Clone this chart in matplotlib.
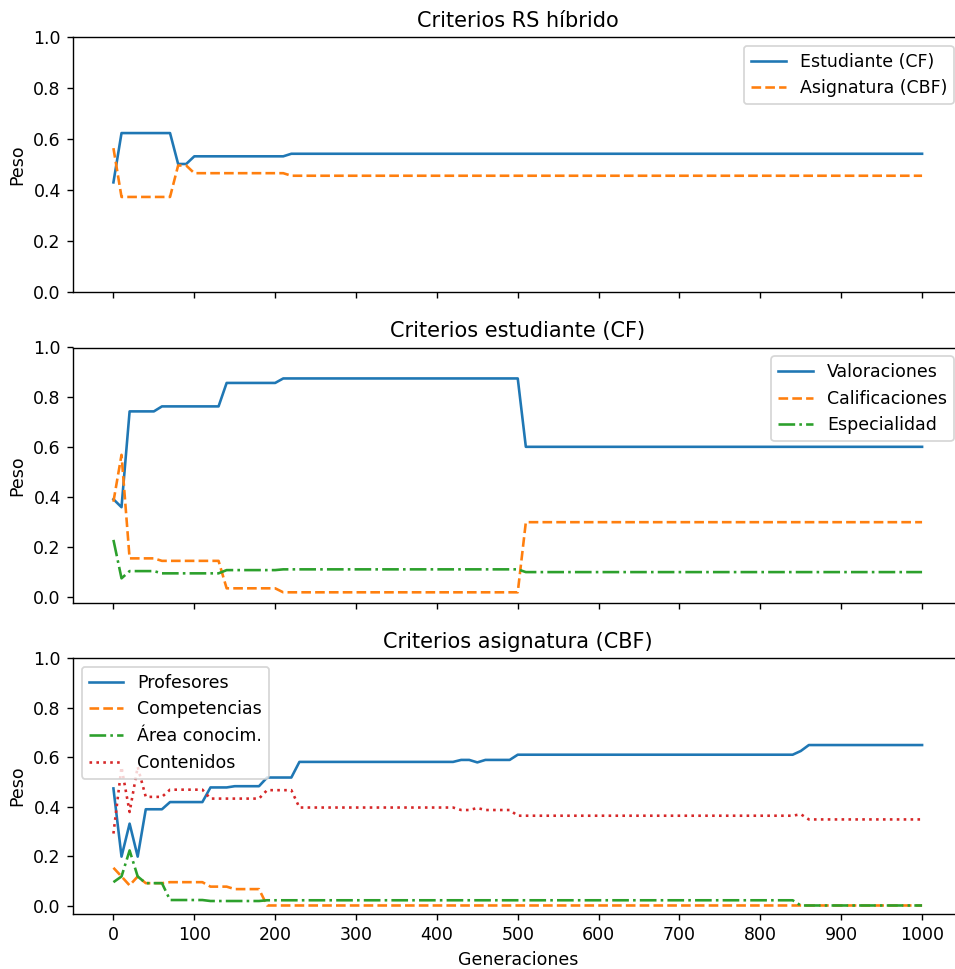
import matplotlib
matplotlib.use("Agg")
import matplotlib.pyplot as plt
from matplotlib.ticker import MultipleLocator

# ---- Panel 1: Criterios RS híbrido ----
p1_x = [0, 10, 70, 80, 90, 100, 210, 220, 1000]
p1_estudiante = [0.431, 0.624, 0.624, 0.503, 0.503, 0.533, 0.533, 0.543, 0.543]
p1_asignatura = [0.565, 0.374, 0.374, 0.497, 0.497, 0.467, 0.467, 0.457, 0.457]

# ---- Panel 2: Criterios estudiante (CF) ----
p2_x = [0, 10, 20, 50, 60, 130, 140, 200, 210, 500, 510, 1000]
p2_valoraciones = [0.392, 0.360, 0.744, 0.744, 0.764, 0.764, 0.858, 0.858, 0.876, 0.876, 0.602, 0.602]
p2_calificaciones = [0.382, 0.570, 0.155, 0.155, 0.145, 0.145, 0.035, 0.035, 0.019, 0.019, 0.300, 0.300]
p2_especialidad = [0.229, 0.075, 0.104, 0.104, 0.095, 0.095, 0.108, 0.108, 0.111, 0.111, 0.100, 0.100]

# ---- Panel 3: Criterios asignatura (CBF) ----
p3_prof_x = [0, 10, 20, 30, 40, 60, 70, 110, 120, 140, 150, 180, 190, 220, 230,
             420, 430, 440, 450, 460, 490, 500, 840, 850, 860, 1000]
p3_profesores = [0.474, 0.199, 0.332, 0.199, 0.390, 0.390, 0.419, 0.419, 0.478, 0.478,
                 0.483, 0.483, 0.518, 0.518, 0.581, 0.581, 0.589, 0.589, 0.579, 0.589,
                 0.589, 0.610, 0.610, 0.625, 0.649, 0.649]

p3_comp_x = [0, 10, 20, 30, 40, 60, 70, 110, 120, 140, 150, 180, 190, 1000]
p3_competencias = [0.154, 0.119, 0.083, 0.119, 0.092, 0.092, 0.096, 0.096, 0.078, 0.078,
                   0.068, 0.068, 0.002, 0.002]

p3_area_x = [0, 10, 20, 30, 40, 60, 70, 110, 120, 180, 190, 840, 850, 1000]
p3_area = [0.096, 0.119, 0.224, 0.119, 0.092, 0.092, 0.024, 0.024, 0.020, 0.020,
           0.023, 0.023, 0.002, 0.002]

p3_cont_x = [0, 10, 20, 30, 40, 60, 70, 110, 120, 180, 190, 220, 230, 420, 430, 440,
             450, 460, 490, 500, 840, 850, 860, 1000]
p3_contenidos = [0.292, 0.560, 0.379, 0.561, 0.440, 0.440, 0.469, 0.469, 0.433, 0.433,
                 0.467, 0.467, 0.397, 0.397, 0.387, 0.387, 0.395, 0.387, 0.387, 0.364,
                 0.364, 0.370, 0.349, 0.349]

titles = ["Criterios RS híbrido", "Criterios estudiante (CF)", "Criterios asignatura (CBF)"]
xticks_step = 100

W, H = 955, 969
DPI = 125
fig = plt.figure(figsize=(W / DPI, H / DPI), dpi=DPI)

left_px, right_px = 73, 962.5
tops_px = [37, 347.5, 658]
h_px = 255.5

axes = []
for t in tops_px:
    ax = fig.add_axes([left_px / W, 1 - (t + h_px) / H, (right_px - left_px) / W, h_px / H])
    axes.append(ax)

ax1, ax2, ax3 = axes
ax1.plot(p1_x, p1_estudiante, '-', color='#1f77b4', lw=1.5, label='Estudiante (CF)')
ax1.plot(p1_x, p1_asignatura, '--', color='#ff7f0e', lw=1.5, label='Asignatura (CBF)')
ax1.set_ylim(0, 1.0)
ax1.legend(loc='upper right')

ax2.plot(p2_x, p2_valoraciones, '-', color='#1f77b4', lw=1.5, label='Valoraciones')
ax2.plot(p2_x, p2_calificaciones, '--', color='#ff7f0e', lw=1.5, label='Calificaciones')
ax2.plot(p2_x, p2_especialidad, '-.', color='#2ca02c', lw=1.5, label='Especialidad')
ax2.set_ylim(top=1.0)
ax2.legend(loc='upper right')

ax3.plot(p3_prof_x, p3_profesores, '-', color='#1f77b4', lw=1.5, label='Profesores')
ax3.plot(p3_comp_x, p3_competencias, '--', color='#ff7f0e', lw=1.5, label='Competencias')
ax3.plot(p3_area_x, p3_area, '-.', color='#2ca02c', lw=1.5, label='Área conocim.')
ax3.plot(p3_cont_x, p3_contenidos, ':', color='#d62728', lw=1.5, label='Contenidos')
ax3.set_ylim(top=1.0)
ax3.legend(loc='upper left')

for i, ax in enumerate(axes):
    ax.set_title(titles[i], fontsize=12)
    ax.set_ylabel('Peso')
    ax.spines['right'].set_visible(False)
    ax.xaxis.set_major_locator(MultipleLocator(xticks_step))
    ax.set_xlim(-50, 1050)
    ax.yaxis.set_major_locator(MultipleLocator(0.2))
    if i < 2:
        ax.tick_params(labelbottom=False)

ax3.set_xlabel('Generaciones')

fig.savefig('out.png', dpi=DPI)
